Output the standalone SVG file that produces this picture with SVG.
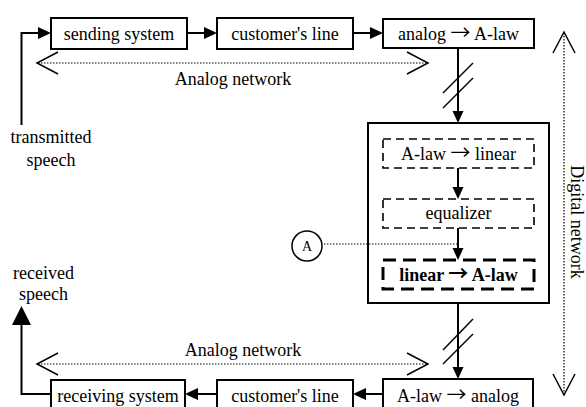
<svg xmlns="http://www.w3.org/2000/svg" width="586" height="407" viewBox="0 0 586 407">
<style>
text{font-family:"Liberation Serif","Times New Roman",serif;font-size:18px;fill:#000}
.c{text-anchor:middle}
.b{font-weight:bold}
.ar{font-family:"Noto Sans CJK JP",sans-serif;font-size:20px;font-weight:normal}
.b .ar{font-weight:bold}
.box{fill:#fff;stroke:#000;stroke-width:2}
.frame{fill:none;stroke:#000;stroke-width:2}
.dash{fill:none;stroke:#000;stroke-width:1.6;stroke-dasharray:8,5}
.bdash{fill:none;stroke:#000;stroke-width:3;stroke-dasharray:13,7}
.ln{fill:none;stroke:#000;stroke-width:2}
.dot{fill:none;stroke:#000;stroke-width:1.2;stroke-dasharray:1.5,1.5}
.chev{fill:none;stroke:#000;stroke-width:1.5}
.head{fill:#000;stroke:none}
.sl{stroke:#000;stroke-width:1.5}
</style>
<rect width="586" height="407" fill="#fff"/>
<g id="digital-box"><rect class="frame" x="368" y="123" width="181" height="180"/></g>
<g id="connectors">
  <path class="ln" d="M21.5,125 V33 H39"/>
  <polygon class="head" points="51,33 38,27 38,39"/>
  <path class="ln" d="M187,33 H205"/>
  <polygon class="head" points="217,33 204,27 204,39"/>
  <path class="ln" d="M353,33 H371"/>
  <polygon class="head" points="383,33 370,27 370,39"/>
  <path class="ln" d="M458,48 V112"/>
  <polygon class="head" points="458,123 452.5,111 463.5,111"/>
  <line class="sl" x1="443" y1="93" x2="473" y2="63"/>
  <line class="sl" x1="443" y1="108" x2="473" y2="78"/>
  <path class="ln" d="M458,168 V188"/>
  <polygon class="head" points="458,199 452.5,187 463.5,187"/>
  <path class="ln" d="M458,228 V249"/>
  <polygon class="head" points="458,260 452.5,248 463.5,248"/>
  <path class="dot" d="M324,244 H458"/>
  <path class="ln" d="M458,303 V368"/>
  <polygon class="head" points="458,379 452.5,367 463.5,367"/>
  <line class="sl" x1="443" y1="350" x2="473" y2="319"/>
  <line class="sl" x1="443" y1="364" x2="473" y2="334"/>
  <path class="ln" d="M383,394 H365"/>
  <polygon class="head" points="353,394 366,388 366,400"/>
  <path class="ln" d="M217,394 H197"/>
  <polygon class="head" points="185,394 198,388 198,400"/>
  <path class="ln" d="M51,394 H21.5 V323"/>
  <polygon class="head" points="21.5,306 12,325 31,325"/>
  <path class="dot" d="M38,63 H427"/>
  <path class="chev" d="M58,52 L37,63 L58,74 M407,52 L428,63 L407,74"/>
  <path class="dot" d="M38,364 H427"/>
  <path class="chev" d="M58,353 L37,364 L58,375 M407,353 L428,364 L407,375"/>
  <path class="dot" d="M564,33 V394"/>
  <path class="chev" d="M553,53 L564,32 L575,53 M553,374 L564,395 L575,374"/>
</g>
<g id="sending"><rect class="box" x="51" y="18" width="136" height="31"/><text class="c" x="119" y="40">sending system</text></g>
<g id="customer-line-top"><rect class="box" x="217" y="18" width="136" height="31"/><text class="c" x="285" y="40">customer's line</text></g>
<g id="analog-alaw"><rect class="box" x="383" y="19" width="151" height="29"/><text class="c" x="458.5" y="40">analog <tspan class="ar">→</tspan> A-law</text></g>
<g id="alaw-linear"><rect class="dash" x="383" y="139" width="151" height="29"/><text class="c" x="458.5" y="160">A-law <tspan class="ar">→</tspan> linear</text></g>
<g id="equalizer"><rect class="dash" x="383" y="199" width="151" height="29"/><text class="c" x="458.5" y="219">equalizer</text></g>
<g id="linear-alaw"><rect class="bdash" x="383" y="260" width="151" height="29"/><text class="c b" x="458.5" y="281">linear <tspan class="ar">→</tspan> A-law</text></g>
<g id="pointA"><circle cx="307" cy="246" r="15" fill="#fff" stroke="#000" stroke-width="1.5"/><text class="c" x="307" y="251" style="font-size:14px">A</text></g>
<g id="alaw-analog"><rect class="box" x="383" y="379" width="150" height="31"/><text class="c" x="458" y="402">A-law <tspan class="ar">→</tspan> analog</text></g>
<g id="customer-line-bottom"><rect class="box" x="217" y="380" width="136" height="30"/><text class="c" x="285" y="402">customer's line</text></g>
<g id="receiving"><rect class="box" x="51" y="380" width="134" height="30"/><text class="c" x="118" y="402">receiving system</text></g>
<g id="labels">
  <text class="c" x="233" y="85">Analog network</text>
  <text class="c" x="243" y="356">Analog network</text>
  <text class="c" x="51" y="143">transmitted</text>
  <text class="c" x="51" y="166">speech</text>
  <text class="c" x="43.5" y="279">received</text>
  <text class="c" x="43.5" y="300">speech</text>
  <text class="c" transform="translate(571,222) rotate(90)">Digital network</text>
</g>
</svg>
